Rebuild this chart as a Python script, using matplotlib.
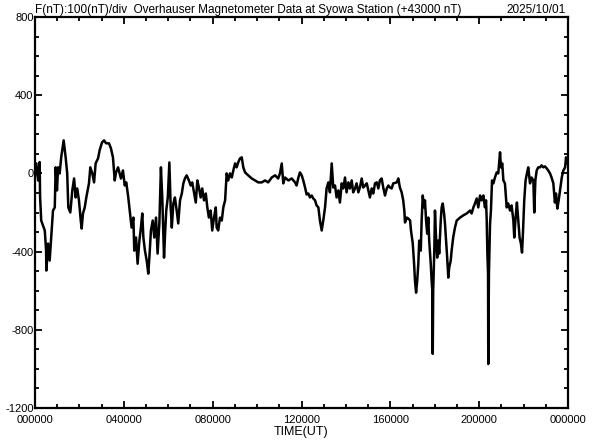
import numpy as np
import matplotlib
matplotlib.use("Agg")
import matplotlib.pyplot as plt
from matplotlib.ticker import MultipleLocator

plt.rcParams['font.family'] = ['Liberation Sans', 'DejaVu Sans']

# time in hours (UT), F deviation from 43000 nT
hours = [
    0.00, 0.06, 0.14, 0.21, 0.23, 0.28, 0.44, 0.50, 0.51, 0.59, 0.66, 0.73, 0.81, 0.89, 0.93, 0.99,
    1.04, 1.11, 1.18, 1.29, 1.38, 1.45, 1.50, 1.59, 1.68, 1.76, 1.83, 1.90, 1.98, 2.06, 2.10, 2.16,
    2.24, 2.31, 2.43, 2.49, 2.58, 2.66, 2.73, 2.84, 2.91, 3.02, 3.11, 3.20, 3.33, 3.42, 3.51, 3.59,
    3.65, 3.74, 3.81, 3.87, 3.96, 4.04, 4.11, 4.20, 4.28, 4.35, 4.43, 4.47, 4.55, 4.62, 4.70, 4.77,
    4.83, 4.88, 4.95, 5.03, 5.10, 5.15, 5.22, 5.30, 5.37, 5.45, 5.52, 5.60, 5.67, 5.73, 5.81, 5.87,
    5.91, 5.98, 6.05, 6.11, 6.16, 6.23, 6.30, 6.38, 6.45, 6.53, 6.61, 6.68, 6.75, 6.83, 6.93, 7.01,
    7.08, 7.16, 7.24, 7.31, 7.38, 7.46, 7.53, 7.61, 7.69, 7.76, 7.83, 7.91, 7.98, 8.06, 8.14, 8.18,
    8.25, 8.33, 8.41, 8.48, 8.56, 8.63, 8.70, 8.78, 8.86, 8.93, 9.01, 9.08, 9.15, 9.23, 9.31, 9.38,
    9.46, 9.60, 9.76, 9.91, 10.05, 10.21, 10.36, 10.50, 10.66, 10.81, 10.95, 11.03, 11.11, 11.18,
    11.26, 11.41, 11.56, 11.71, 11.78, 11.86, 11.93, 12.01, 12.08, 12.16, 12.23, 12.31, 12.38,
    12.46, 12.53, 12.61, 12.68, 12.76, 12.83, 12.91, 12.98, 13.06, 13.13, 13.21, 13.28, 13.36,
    13.43, 13.51, 13.58, 13.66, 13.73, 13.81, 13.88, 13.96, 14.03, 14.11, 14.18, 14.26, 14.33,
    14.41, 14.48, 14.56, 14.63, 14.71, 14.78, 14.86, 14.94, 15.01, 15.08, 15.16, 15.23, 15.31,
    15.39, 15.46, 15.53, 15.61, 15.68, 15.76, 15.84, 15.91, 15.98, 16.06, 16.13, 16.29, 16.36,
    16.43, 16.51, 16.58, 16.63, 16.66, 16.74, 16.81, 16.89, 16.93, 17.01, 17.07, 17.11, 17.16,
    17.21, 17.26, 17.30, 17.37, 17.41, 17.46, 17.52, 17.56, 17.61, 17.66, 17.71, 17.75, 17.82,
    17.86, 17.89, 17.91, 17.93, 17.98, 18.01, 18.05, 18.11, 18.16, 18.20, 18.27, 18.31, 18.36,
    18.42, 18.46, 18.51, 18.56, 18.61, 18.65, 18.72, 18.76, 18.83, 18.91, 18.99, 19.14, 19.28,
    19.44, 19.59, 19.66, 19.74, 19.81, 19.89, 19.96, 20.04, 20.11, 20.19, 20.26, 20.31, 20.34,
    20.37, 20.40, 20.41, 20.44, 20.49, 20.53, 20.58, 20.64, 20.71, 20.79, 20.86, 20.94, 20.98,
    21.04, 21.09, 21.16, 21.24, 21.31, 21.39, 21.46, 21.54, 21.58, 21.64, 21.70, 21.76, 21.82,
    21.88, 21.93, 21.97, 22.03, 22.09, 22.15, 22.21, 22.29, 22.36, 22.44, 22.48, 22.53, 22.59,
    22.66, 22.74, 22.81, 22.89, 22.96, 23.04, 23.11, 23.19, 23.26, 23.34, 23.41, 23.46, 23.52,
    23.58, 23.64, 23.72, 23.79, 23.87, 23.91, 23.97, 24.00,
]
f_dev = [
    -10, 51, -36, 58, -123, -241, -292, -395, -497, -359, -446, -328, -190, -174, 31, -87,
    31, 0, 82, 169, 82, 0, -174, -200, -87, -26, -123, -77, -138, -241, -282, -205,
    -174, -123, -51, 31, 0, -46, 51, 77, 118, 159, 169, 154, 154, 128, 82, -36,
    5, 31, 0, -26, 15, -62, -46, -123, -205, -277, -226, -395, -328, -462, -344, -277,
    -205, -328, -395, -446, -513, -431, -292, -241, -328, -226, -410, -256, 31, -123, -431, -277,
    -190, -123, 56, -174, -277, -154, -123, -190, -256, -138, -103, -51, -26, -10, -36, -62,
    -46, -97, -149, -36, -72, -123, -77, -138, -103, -174, -226, -190, -292, -226, -174, -277,
    -292, -226, -241, -174, -138, 0, -36, 0, -21, 15, 51, 31, 56, 77, 82, 31,
    5, -10, -26, -36, -46, -46, -36, -46, -21, -10, -26, 0, 51, -51,
    -21, -36, -26, -46, -62, -21, 5, -10, -36, -72, -108, -103, -123,
    -113, -128, -138, -164, -174, -241, -292, -241, -174, -77, -46, -97, 51,
    -72, -62, -123, -87, -149, -51, -77, -21, -97, -46, -77, -36, -97,
    -77, -51, -97, -72, -26, -72, -62, -51, -87, -123, -77, -103, -51,
    -46, -77, -36, -26, -72, -113, -77, -62, -72, -77, -51, -46, -26,
    -72, -97, -138, -190, -251, -226, -231, -241, -292, -359, -462, -549, -610,
    -549, -462, -344, -395, -241, -113, -174, -138, -241, -308, -226, -344, -462,
    -549, -600, -923, -600, -395, -190, -308, -431, -344, -410, -241, -174, -154,
    -205, -256, -344, -431, -533, -482, -446, -395, -328, -277, -241, -226, -215,
    -205, -190, -205, -174, -154, -128, -174, -113, -138, -113, -174, -138, -241,
    -410, -513, -975, -513, -256, -190, -36, -51, -21, 5, 0, 108, 31,
    51, -36, -51, -174, -154, -190, -164, -241, -328, -226, -149, -241, -328,
    -359, -405, -308, -138, -36, 0, 31, -51, -21, -36, -200, -36, 15,
    31, 31, 41, 31, 36, 26, 15, 0, -21, -51, -149, -103, -180,
    -138, -87, -21, 15, 31, 82, 51, 77,
]

xtick_hours = [0, 4, 8, 12, 16, 20, 24]
xtick_labels = ["000000", "040000", "080000", "120000", "160000", "200000", "000000"]
ytick_vals = [-1200, -800, -400, 0, 400, 800]

fig = plt.figure(figsize=(5.92, 4.40), dpi=100)
ax = fig.add_axes([35/592, 1 - 408/440, 533/592, 391/440])

ax.plot(hours, f_dev, color="black", lw=1.8)

ax.set_xlim(0, 24)
ax.set_ylim(-1200, 800)
ax.set_xticks(xtick_hours)
ax.set_xticklabels(xtick_labels)
ax.xaxis.set_minor_locator(MultipleLocator(1))
ax.set_yticks(ytick_vals)
ax.set_yticklabels([str(v) for v in ytick_vals])
ax.yaxis.set_minor_locator(MultipleLocator(100))

ax.tick_params(which="both", direction="in", top=True, right=True,
               labelsize=8, width=1.3)
ax.tick_params(axis="y", pad=1)
ax.tick_params(axis="x", pad=5)
ax.tick_params(which="major", length=5)
ax.tick_params(which="minor", length=3)
for sp in ax.spines.values():
    sp.set_linewidth(1.6)

ax.set_xlabel("TIME(UT)", fontsize=9, labelpad=1)

fig.text(35/592, 1 - 13/440, "F(nT):100(nT)/div  Overhauser Magnetometer Data at Syowa Station (+43000 nT)",
         fontsize=8.5, ha="left", va="baseline")
fig.text(566/592, 1 - 13/440, "2025/10/01", fontsize=8.5, ha="right", va="baseline")

fig.savefig("out.png", dpi=100)
